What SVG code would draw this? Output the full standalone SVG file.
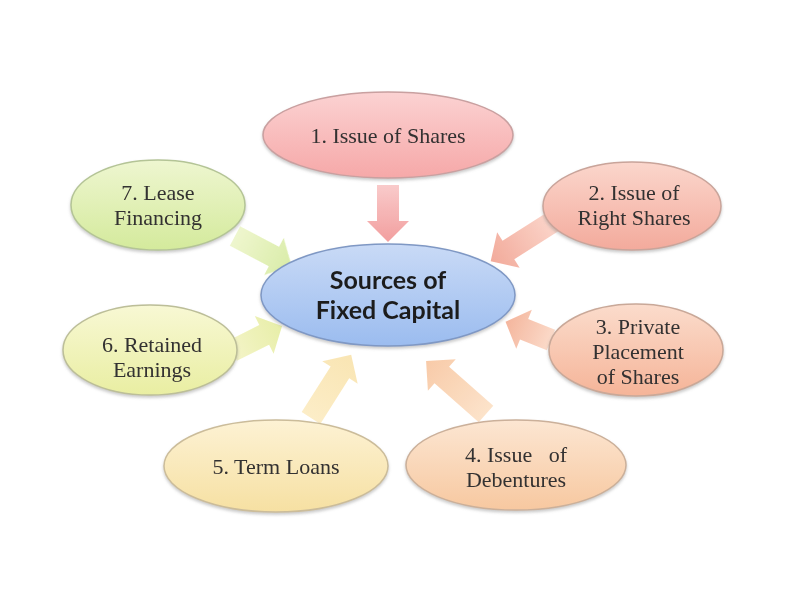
<svg xmlns="http://www.w3.org/2000/svg" width="794" height="595" viewBox="0 0 794 595">
<defs>
<style>
.lbl{font-family:"Liberation Serif","Times New Roman",serif;font-size:22px;fill:#333030;text-anchor:middle}
.ctr{font-family:Lato,"Open Sans",sans-serif;font-weight:bold;font-size:25px;fill:#1e1e1e;text-anchor:middle}
.node{stroke-width:1.5}
</style>
<filter id="sh" x="-10%" y="-10%" width="120%" height="130%"><feDropShadow dx="0" dy="2" stdDeviation="1.5" flood-color="#888" flood-opacity="0.45"/></filter>
<linearGradient id="g0" x1="0" y1="0" x2="0" y2="1"><stop offset="0" stop-color="#c9daf6"/><stop offset="1" stop-color="#9bbcef"/></linearGradient>
<linearGradient id="g1" x1="0" y1="0" x2="0" y2="1"><stop offset="0" stop-color="#fbd2d2"/><stop offset="1" stop-color="#f6a8a8"/></linearGradient>
<linearGradient id="g2" x1="0" y1="0" x2="0" y2="1"><stop offset="0" stop-color="#fbd6cc"/><stop offset="1" stop-color="#f3aa9c"/></linearGradient>
<linearGradient id="g3" x1="0" y1="0" x2="0" y2="1"><stop offset="0" stop-color="#fbdccc"/><stop offset="1" stop-color="#f5b498"/></linearGradient>
<linearGradient id="g4" x1="0" y1="0" x2="0" y2="1"><stop offset="0" stop-color="#fce6d2"/><stop offset="1" stop-color="#f7c8a0"/></linearGradient>
<linearGradient id="g5" x1="0" y1="0" x2="0" y2="1"><stop offset="0" stop-color="#fdf2d4"/><stop offset="1" stop-color="#f6e0a2"/></linearGradient>
<linearGradient id="g6" x1="0" y1="0" x2="0" y2="1"><stop offset="0" stop-color="#f8f8d4"/><stop offset="1" stop-color="#e9eea2"/></linearGradient>
<linearGradient id="g7" x1="0" y1="0" x2="0" y2="1"><stop offset="0" stop-color="#eef6d0"/><stop offset="1" stop-color="#d4ea9c"/></linearGradient>
<linearGradient id="a1" x1="0" y1="0" x2="1" y2="0"><stop offset="0" stop-color="#f9c8c8"/><stop offset="1" stop-color="#f29a9a"/></linearGradient>
<linearGradient id="a2" x1="0" y1="0" x2="1" y2="0"><stop offset="0" stop-color="#fbd4c8"/><stop offset="1" stop-color="#f2a696"/></linearGradient>
<linearGradient id="a3" x1="0" y1="0" x2="1" y2="0"><stop offset="0" stop-color="#fbd8c6"/><stop offset="1" stop-color="#f4b298"/></linearGradient>
<linearGradient id="a4" x1="0" y1="0" x2="1" y2="0"><stop offset="0" stop-color="#fce2c8"/><stop offset="1" stop-color="#f8c8a4"/></linearGradient>
<linearGradient id="a5" x1="0" y1="0" x2="1" y2="0"><stop offset="0" stop-color="#fcecc4"/><stop offset="1" stop-color="#f9e4b0"/></linearGradient>
<linearGradient id="a6" x1="0" y1="0" x2="1" y2="0"><stop offset="0" stop-color="#f4f4c4"/><stop offset="1" stop-color="#e6eea4"/></linearGradient>
<linearGradient id="a7" x1="0" y1="0" x2="1" y2="0"><stop offset="0" stop-color="#eef6cc"/><stop offset="1" stop-color="#d8eca4"/></linearGradient>
</defs>
<rect width="794" height="595" fill="#ffffff"/>
<g id="connectors" opacity="0.95">
<path transform="translate(388,185) rotate(90)" fill="url(#a1)" d="M0,-11 H36 V-21 L57,0 L36,21 V11 H0 Z"/>
<path transform="translate(554,221) rotate(147.6)" fill="url(#a2)" d="M0,-11 H54 V-21 L75,0 L54,21 V11 H0 Z"/>
<path transform="translate(551,340) rotate(201.8)" fill="url(#a3)" d="M0,-11 H29 V-21 L49,0 L29,21 V11 H0 Z"/>
<path transform="translate(486,414) rotate(221.5)" fill="url(#a4)" d="M0,-11 H59 V-21 L80,0 L59,21 V11 H0 Z"/>
<path transform="translate(311,418) rotate(-57.6)" fill="url(#a5)" d="M0,-11 H54 V-21 L75,0 L54,21 V11 H0 Z"/>
<path transform="translate(232,351) rotate(-26.6)" fill="url(#a6)" d="M0,-11 H36 V-21 L56,0 L36,21 V11 H0 Z"/>
<path transform="translate(235,236) rotate(27.8)" fill="url(#a7)" d="M0,-11 H44 V-21 L64,0 L44,21 V11 H0 Z"/>
</g>
<g id="center" filter="url(#sh)">
<ellipse class="node" cx="388" cy="295" rx="127" ry="51" fill="url(#g0)" stroke="#7f98c4"/>
<text class="ctr" x="388" y="289">Sources of</text>
<text class="ctr" x="388" y="319">Fixed Capital</text>
</g>
<g id="n1" filter="url(#sh)">
<ellipse class="node" cx="388" cy="135" rx="125" ry="43" fill="url(#g1)" stroke="#c9a0a0"/>
<text class="lbl" x="388" y="143">1. Issue of Shares</text>
</g>
<g id="n2" filter="url(#sh)">
<ellipse class="node" cx="632" cy="206" rx="89" ry="44" fill="url(#g2)" stroke="#c9a49a"/>
<text class="lbl" x="634" y="200">2. Issue of</text>
<text class="lbl" x="634" y="225">Right Shares</text>
</g>
<g id="n3" filter="url(#sh)">
<ellipse class="node" cx="636" cy="350" rx="87" ry="46" fill="url(#g3)" stroke="#c9a898"/>
<text class="lbl" x="638" y="334">3. Private</text>
<text class="lbl" x="638" y="359">Placement</text>
<text class="lbl" x="638" y="384">of Shares</text>
</g>
<g id="n4" filter="url(#sh)">
<ellipse class="node" cx="516" cy="465" rx="110" ry="45" fill="url(#g4)" stroke="#cbb09a"/>
<text class="lbl" x="516" y="462" xml:space="preserve">4. Issue   of</text>
<text class="lbl" x="516" y="487">Debentures</text>
</g>
<g id="n5" filter="url(#sh)">
<ellipse class="node" cx="276" cy="466" rx="112" ry="46" fill="url(#g5)" stroke="#cbbc9a"/>
<text class="lbl" x="276" y="474">5. Term Loans</text>
</g>
<g id="n6" filter="url(#sh)">
<ellipse class="node" cx="150" cy="350" rx="87" ry="45" fill="url(#g6)" stroke="#bcbe98"/>
<text class="lbl" x="152" y="352">6. Retained</text>
<text class="lbl" x="152" y="377">Earnings</text>
</g>
<g id="n7" filter="url(#sh)">
<ellipse class="node" cx="158" cy="205" rx="87" ry="45" fill="url(#g7)" stroke="#b4c496"/>
<text class="lbl" x="158" y="200">7. Lease</text>
<text class="lbl" x="158" y="225">Financing</text>
</g>
</svg>
